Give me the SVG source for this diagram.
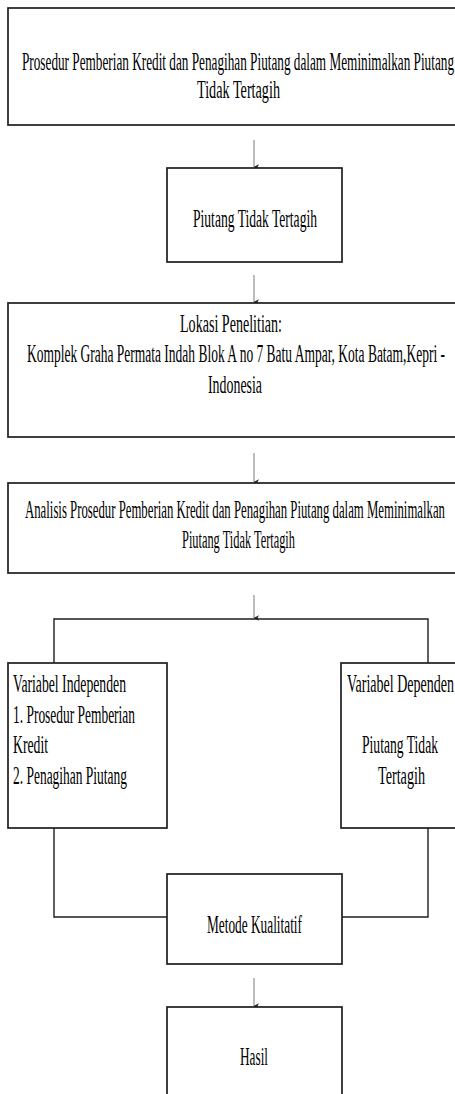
<svg xmlns="http://www.w3.org/2000/svg" width="455" height="1094" viewBox="0 0 455 1094">
<style>
.box{fill:#fff;stroke:#1e1e1e;stroke-width:1.7}
.ln{fill:none;stroke:#1e1e1e;stroke-width:1.4}
.ar{fill:none;stroke:#7a7a7a;stroke-width:1}
text{font-family:"Liberation Serif","Times New Roman",serif;font-size:26px;fill:#000}
</style>
<defs>
<marker id="ah" markerWidth="6" markerHeight="7" refX="3" refY="6.5" orient="auto" markerUnits="userSpaceOnUse" viewBox="0 0 6 7">
<path d="M0.3,1.5 L3,6.8 L5.7,1.5 L3,3 Z" fill="#222"/>
</marker>
</defs>
<g id="connectors">
<line class="ar" x1="254" y1="140" x2="254" y2="167" marker-end="url(#ah)"/>
<line class="ar" x1="254" y1="275" x2="254" y2="302" marker-end="url(#ah)"/>
<line class="ar" x1="254" y1="453" x2="254" y2="482" marker-end="url(#ah)"/>
<line class="ar" x1="254" y1="595" x2="254" y2="618" marker-end="url(#ah)"/>
<line class="ar" x1="254" y1="978" x2="254" y2="1006" marker-end="url(#ah)"/>
<polyline class="ln" points="54,663 54,619 428,619 428,663"/>
<polyline class="ln" points="54,828 54,917 167,917"/>
<polyline class="ln" points="428,828 428,917 342,917"/>
</g>
<g id="n1">
<rect class="box" x="8" y="8" width="470" height="117"/>
<text x="22" y="70" textLength="432" lengthAdjust="spacingAndGlyphs">Prosedur Pemberian Kredit dan Penagihan Piutang dalam Meminimalkan Piutang</text>
<text x="197" y="98" textLength="83" lengthAdjust="spacingAndGlyphs">Tidak Tertagih</text>
</g>
<g id="n2">
<rect class="box" x="167" y="168" width="175" height="94"/>
<text x="193" y="227" textLength="124" lengthAdjust="spacingAndGlyphs">Piutang Tidak Tertagih</text>
</g>
<g id="n3">
<rect class="box" x="8" y="303" width="470" height="134"/>
<text x="180" y="332" textLength="102" lengthAdjust="spacingAndGlyphs">Lokasi Penelitian:</text>
<text x="27" y="362" textLength="418" lengthAdjust="spacingAndGlyphs">Komplek Graha Permata Indah Blok A no 7 Batu Ampar, Kota Batam,Kepri -</text>
<text x="208" y="393" textLength="54" lengthAdjust="spacingAndGlyphs">Indonesia</text>
</g>
<g id="n4">
<rect class="box" x="8" y="483" width="470" height="90"/>
<text x="25" y="518" textLength="420" lengthAdjust="spacingAndGlyphs">Analisis Prosedur Pemberian Kredit dan Penagihan Piutang dalam Meminimalkan</text>
<text x="182" y="548" textLength="113" lengthAdjust="spacingAndGlyphs">Piutang Tidak Tertagih</text>
</g>
<g id="n5">
<rect class="box" x="8" y="663" width="159" height="165"/>
<text x="13" y="692" textLength="113" lengthAdjust="spacingAndGlyphs">Variabel Independen</text>
<text x="13" y="723" textLength="122" lengthAdjust="spacingAndGlyphs">1. Prosedur Pemberian</text>
<text x="13" y="753" textLength="35" lengthAdjust="spacingAndGlyphs">Kredit</text>
<text x="13" y="784" textLength="114" lengthAdjust="spacingAndGlyphs">2. Penagihan Piutang</text>
</g>
<g id="n6">
<rect class="box" x="341" y="663" width="130" height="165"/>
<text x="347" y="692" textLength="107" lengthAdjust="spacingAndGlyphs">Variabel Dependen</text>
<text x="362" y="753" textLength="76" lengthAdjust="spacingAndGlyphs">Piutang Tidak</text>
<text x="378" y="784" textLength="47" lengthAdjust="spacingAndGlyphs">Tertagih</text>
</g>
<g id="n7">
<rect class="box" x="167" y="874" width="175" height="90"/>
<text x="207" y="933" textLength="95" lengthAdjust="spacingAndGlyphs">Metode Kualitatif</text>
</g>
<g id="n8">
<rect class="box" x="167" y="1007" width="175" height="100"/>
<text x="240" y="1065" textLength="28" lengthAdjust="spacingAndGlyphs">Hasil</text>
</g>
</svg>
